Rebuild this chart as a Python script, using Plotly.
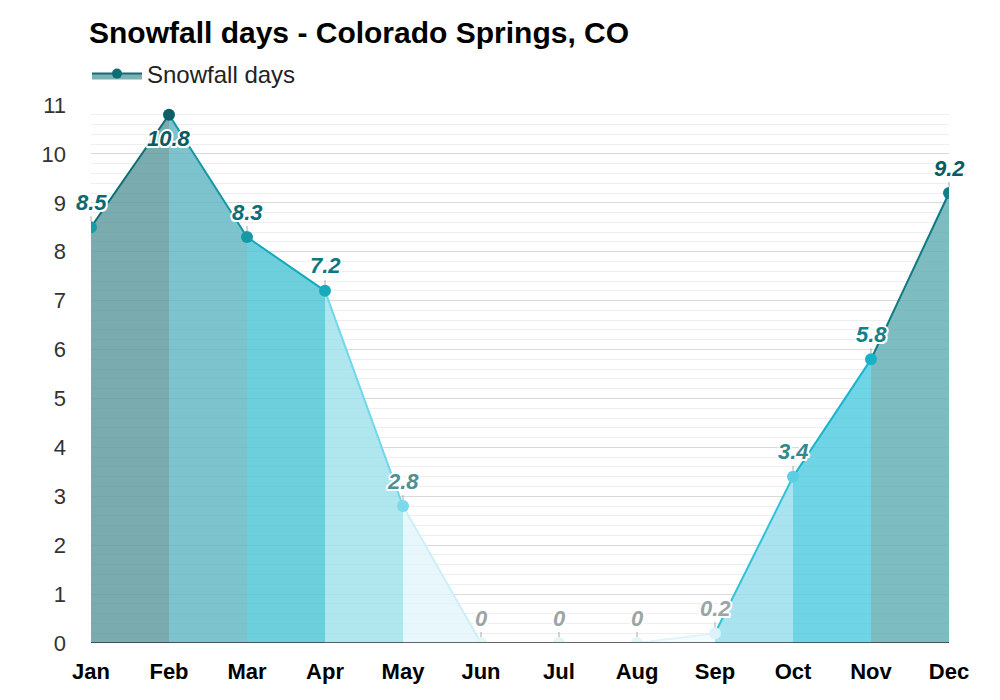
import plotly.graph_objects as go

months = ["Jan", "Feb", "Mar", "Apr", "May", "Jun", "Jul", "Aug", "Sep", "Oct", "Nov", "Dec"]
snow_days = [8.5, 10.8, 8.3, 7.2, 2.8, 0, 0, 0, 0.2, 3.4, 5.8, 9.2]
y_ticks = list(range(0, 12))

# styles
seg_fill = ["#7aabae", "#7cc3cd", "#6dcfdb", "#b0e6ee", "#e8f7fb", "#f7fcfd",
            "#f7fcfd", "#f2fbfd", "#a8e3ef", "#6fd5e6", "#7dbcc0"]
seg_line = ["#0d6e75", "#1497a3", "#14a9bb", "#6fd8ea", "#cdeff7", "#eaf7fb",
            "#eaf7fb", "#e0f4f9", "#2ec3d9", "#18b4cb", "#0f7a82"]
marker_colors = ["#129ea8", "#0f5f66", "#149aa5", "#17a9bc", "#7ad9ec", "#e4f5fa",
                 "#e4f5fa", "#e4f5fa", "#dcf2f8", "#5ccfe3", "#16b2c8", "#0f7f88"]
label_colors = ["#0b6b73", "#0a5a61", "#0c6e78", "#0e7782", "#4f8f98", "#9aa5a5",
                "#9aa5a5", "#9aa5a5", "#9aa5a5", "#36878f", "#12808a", "#0a5a61"]


def rgba(hex_color, alpha=0.82):
    h = hex_color.lstrip("#")
    r, g, b = (int(h[i:i + 2], 16) for i in (0, 2, 4))
    r, g, b = [max(0, min(255, round((c - 255 * (1 - alpha)) / alpha))) for c in (r, g, b)]
    return f"rgba({r},{g},{b},{alpha})"


FONT = "Liberation Sans, Arial, sans-serif"
fig = go.Figure()

xs = list(range(len(months)))
for i in range(len(months) - 1):
    fig.add_trace(go.Scatter(
        x=[xs[i], xs[i + 1]], y=[snow_days[i], snow_days[i + 1]],
        mode="lines", fill="tozeroy", fillcolor=rgba(seg_fill[i]),
        line=dict(color=seg_line[i], width=2),
        showlegend=False, hoverinfo="skip"))

fig.add_trace(go.Scatter(
    x=xs, y=snow_days, mode="markers",
    marker=dict(color=marker_colors, size=12),
    showlegend=False, hovertemplate="%{y}<extra></extra>"))

# legend-only entry
fig.add_trace(go.Scatter(
    x=[None], y=[None], mode="lines+markers", name="Snowfall days",
    fill="tozeroy", fillcolor="#7fb0b2",
    line=dict(color="#0d6e75", width=2), marker=dict(color="#0d6e75", size=10)))

halo = ("-1.5px -1.5px 0 #fff, 1.5px -1.5px 0 #fff, -1.5px 1.5px 0 #fff, "
        "1.5px 1.5px 0 #fff, 0 -2px 0 #fff, 0 2px 0 #fff, -2px 0 0 #fff, 2px 0 0 #fff")
for i, v in enumerate(snow_days):
    below = v > 10.3
    fig.add_annotation(
        x=xs[i], y=v, text=f"{v:g}", showarrow=True,
        ax=0, ay=24 if below else -25, arrowhead=0, arrowwidth=1,
        arrowcolor="rgba(150,150,150,0.0)" if below else "#a8a8a8",
        standoff=6,
        font=dict(family=FONT, size=22, color=label_colors[i],
                  weight="bold", style="italic", shadow=halo))

fig.update_layout(
    width=1000, height=700,
    paper_bgcolor="white", plot_bgcolor="white",
    margin=dict(l=91, r=51, t=105, b=57, autoexpand=False),
    title=dict(text="<b>Snowfall days - Colorado Springs, CO</b>",
               x=0.089, xref="container", xanchor="left",
               y=1 - 32 / 700, yref="container", yanchor="middle",
               font=dict(family=FONT, size=30, color="#000")),
    legend=dict(x=0.087, xref="container", xanchor="left",
                y=1 - 74 / 700, yref="container", yanchor="middle",
                orientation="h", bgcolor="rgba(0,0,0,0)", itemwidth=50,
                font=dict(family=FONT, size=24, color="#222")),
    xaxis=dict(range=[0, 11], tickvals=xs, ticktext=months,
               showgrid=False, zeroline=False, showline=False,
               ticks="", ticklabelstandoff=13, automargin=False,
               tickfont=dict(family=FONT, size=22, color="#000", weight="bold"),
               fixedrange=True),
    yaxis=dict(range=[0, 11], tickvals=y_ticks, showgrid=True,
               gridcolor="#d9d9d9", gridwidth=1, zeroline=False,
               showline=False, ticks="", ticklabelstandoff=24, automargin=False,
               minor=dict(dtick=0.2, showgrid=True, gridcolor="#eeeeee", gridwidth=1),
               tickfont=dict(family=FONT, size=22, color="#333"),
               fixedrange=True),
    shapes=[dict(type="line", xref="x", yref="y", x0=0, x1=11, y0=0, y1=0,
                 line=dict(color="#333", width=1.5), layer="above")],
)

fig.write_html("out.html", config={"displayModeBar": False},
               post_script="document.body.style.margin='0';")
